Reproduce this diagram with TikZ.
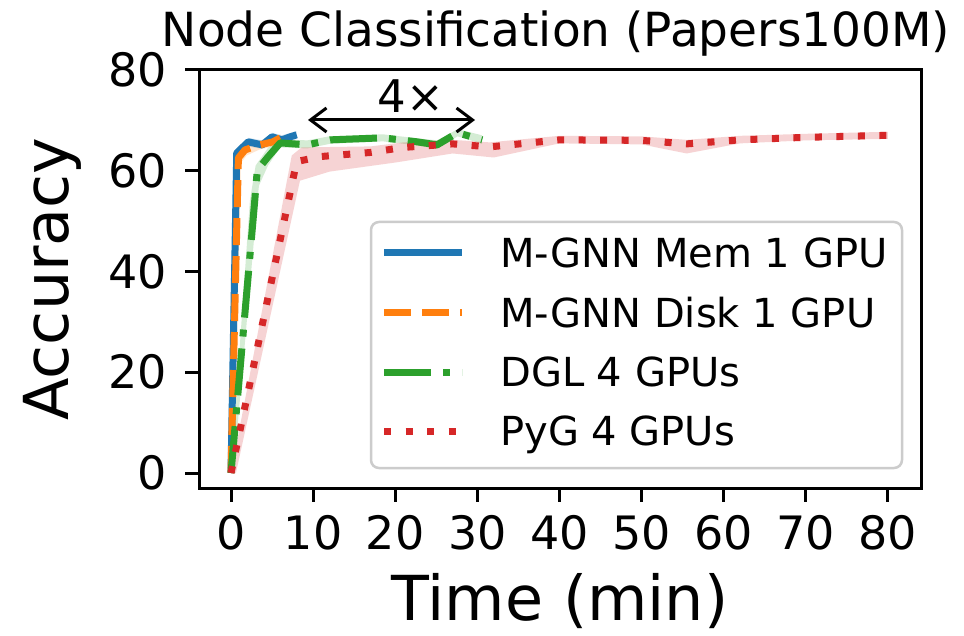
\documentclass[tikz,border=0pt]{standalone}
\usepackage{fontspec}
\setmainfont{DejaVu Sans}
\usetikzlibrary{arrows.meta}
\definecolor{tblue}{HTML}{1F77B4}
\definecolor{torange}{HTML}{FF7F0E}
\definecolor{tgreen}{HTML}{2CA02C}
\definecolor{tred}{HTML}{D62728}
\definecolor{legedge}{HTML}{CCCCCC}
\newcommand\myfs[1]{\fontsize{#1}{#1}\selectfont}
\begin{document}
\begin{tikzpicture}[x=1pt,y=-1pt,
  dataline/.style={line width=7pt,line join=round},
  blueline/.style={dataline,tblue},
  orangeline/.style={dataline,torange,dash pattern=on 27pt off 11pt},
  greenline/.style={dataline,tgreen,dash pattern=on 47pt off 12pt on 7pt off 12pt},
  redline/.style={dataline,tred,dash pattern=on 7pt off 14.5pt},
  band/.style={fill opacity=0.2,draw=none},
  ticklab/.style={font=\myfs{46},inner sep=0pt,text height=33.5pt,text depth=0pt},
  leglab/.style={font=\myfs{40},inner sep=0pt,text height=29.2pt,text depth=0pt,anchor=west},
]
\useasboundingbox (0,0) rectangle (964,636);
\fill[white] (0,0) rectangle (964,636);

% data
\begin{scope}[shift={(231,473)},x=8.21pt,y=5.04pt]
  % bands
  \fill[band,tblue] (0,0) -- (0.5,63.5) -- (2.1,66.5) -- (3.8,66) -- (5,67.5) -- (6.2,67) -- (8,67.8)
     -- (8,66.3) -- (6.2,65.2) -- (5,65.8) -- (3.8,64.3) -- (2.1,64.8) -- (0.9,62.5) -- (0.3,0) -- cycle;
  \fill[band,torange] (0,0) -- (0.6,62.5) -- (1.7,65) -- (3.5,66) -- (5.1,66.5) -- (6,67.2)
     -- (6,65.8) -- (5.1,64.8) -- (3.5,64.2) -- (1.9,63) -- (1.2,61.5) -- (0.4,0) -- cycle;
  \fill[band,tgreen] (0,0) -- (2.3,54) -- (3.0,61) -- (4.5,64.5) -- (6,66.2) -- (9.3,66) -- (12,66.8)
     -- (18.5,67.2) -- (22.7,66.4) -- (25.1,66) -- (27.6,68.2) -- (30.6,67)
     -- (30.6,65.3) -- (27.6,66.8) -- (25.1,64.3) -- (22.7,65) -- (18.5,65.8) -- (12,65.3)
     -- (9.3,64.4) -- (6,64.6) -- (4.5,61) -- (3.4,57) -- (3.0,50) -- (0.3,0) -- cycle;
  \fill[band,tred] (0,0) -- (7.4,63) -- (8.6,64.6) -- (17,64.8) -- (21,65.6) -- (27,66.1)
     -- (31.5,65.6) -- (40,66.9) -- (50,66.8) -- (55.5,66.1) -- (62,66.9) -- (70,67.3) -- (80,67.7)
     -- (80,66.3) -- (70,66) -- (62,65.4) -- (55.5,63.4) -- (50,65.2) -- (40,65.4) -- (32,62.6)
     -- (27,63.4) -- (20,61.6) -- (12,59.8) -- (8.4,58) -- (0.6,0) -- cycle;
  % lines
  \draw[blueline] (0,0) -- (0.7,63.5) -- (2.1,65.7) -- (3.8,65.1) -- (5.0,66.7) -- (6.2,66.1) -- (7.2,66.7) -- (8.0,67.1);
  \draw[orangeline] (0,0) -- (0.9,62.5) -- (1.7,64.1) -- (3.5,65.1) -- (5.1,65.7) -- (6.0,66.5);
  \draw[greenline] (0,0) -- (2.9,54.2) -- (3.2,60.1) -- (4.5,62.7) -- (6.0,65.5) -- (9.3,65.1)
     -- (12.1,66.1) -- (18.5,66.5) -- (22.7,65.7) -- (25.1,65.1) -- (27.6,67.5) -- (30.6,66.1);
  \draw[redline] (0,0) -- (8,61.8) -- (11,62.8) -- (17,63.6) -- (21,64.6) -- (27,65.3) -- (31.5,64.7)
     -- (40,66.1) -- (50,66) -- (55.5,65.3) -- (62,66.1) -- (70,66.6) -- (80,67);
\end{scope}

% axes
\draw[line width=3pt] (199,70) rectangle (921,488);
\foreach \t in {0,10,...,80}{
  \draw[line width=3pt] (231+8.21*\t,488) -- ++(0,14);
  \node[ticklab,anchor=north] (xt\t) at (231+8.21*\t,516) {\t};
}
\foreach \a in {0,20,...,80}{
  \draw[line width=3pt] (199,473-5.04*\a) -- ++(-14,0);
  \node[ticklab,anchor=east] (yt\a) at (167,473-5.04*\a) {\a};
}
\node[font=\myfs{62},rotate=90,anchor=base] (ylab) at (68,279) {Accuracy};
\node[font=\myfs{62},anchor=base] (xlab) at (560,620) {Time (min)};
\node[font=\myfs{47},anchor=base] (title) at (556,47) {Node Classification (Papers100M)};

% annotation
\coordinate (aL) at (308,120);
\coordinate (aR) at (475,120);
\draw[line width=3pt,{Straight Barb[length=16pt,width=24pt]}-{Straight Barb[length=16pt,width=24pt]}] (aL) -- (aR);
\node[font=\myfs{45},anchor=base] (four) at (411,113) {4×};

% legend
\draw[legedge,line width=2.5pt,rounded corners=8pt,fill=white,fill opacity=0.8] (371,222) rectangle (902,468);
\draw[blueline] (384,253) -- (462,253);
\draw[orangeline] (384,313) -- (462,313);
\draw[greenline] (384,372) -- (462,372);
\draw[redline] (384,431) -- (462,431);
\node[leglab] (l1) at (500,253) {M-GNN Mem 1 GPU};
\node[leglab] (l2) at (500,313) {M-GNN Disk 1 GPU};
\node[leglab] (l3) at (500,372) {DGL 4 GPUs};
\node[leglab] (l4) at (500,431) {PyG 4 GPUs};
\end{tikzpicture}
\end{document}
